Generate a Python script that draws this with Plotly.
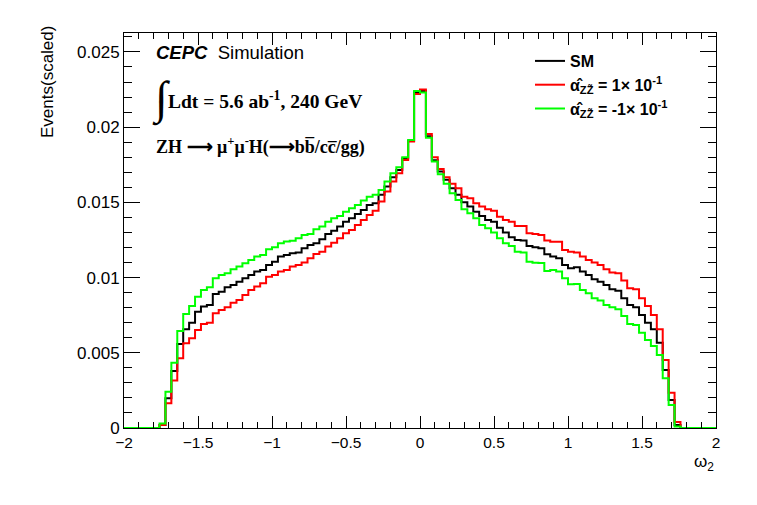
import numpy as np
import plotly.graph_objects as go

# ---- data: 100 bins of width 0.04 on [-2, 2] ----
bin_lo, bin_hi, n_bins = -2.0, 2.0, 100

sm_vals = [0, 0, 0, 0, 0, 0,
           0.0002, 0.00197, 0.00379, 0.00559, 0.00656, 0.0070, 0.00773, 0.00807, 0.00818, 0.00891,
           0.00906, 0.00936, 0.0095, 0.00973, 0.00995, 0.01017, 0.0104, 0.0105, 0.01084, 0.01106,
           0.0114, 0.0115, 0.01162, 0.01166, 0.01195, 0.01217, 0.01228, 0.01255, 0.0129, 0.01312,
           0.01339, 0.01372, 0.01394, 0.01423, 0.0145, 0.01483, 0.01494, 0.0155, 0.01605, 0.01667,
           0.01716, 0.01791, 0.0191, 0.0223, 0.0224, 0.0194, 0.0178, 0.01705, 0.0165, 0.01594,
           0.0155, 0.0150, 0.01472, 0.01438, 0.0141, 0.01383, 0.01372, 0.01332, 0.01299, 0.01268,
           0.0125, 0.01246, 0.0121, 0.01202, 0.01195, 0.01155, 0.0114, 0.01128, 0.01084, 0.01062,
           0.01069, 0.0104, 0.01017, 0.00989, 0.00973, 0.0095, 0.00922, 0.00913, 0.00862, 0.00818,
           0.00803, 0.00751, 0.0070, 0.00656, 0.00567, 0.00386, 0.00186, 0.0002,
           0, 0, 0, 0, 0, 0]

pos_vals = [0, 0, 0, 0, 0, 0,
            0.0002, 0.00164, 0.00315, 0.00463, 0.00563, 0.00597, 0.00652, 0.00692, 0.0070, 0.00763,
            0.00785, 0.00803, 0.00833, 0.00851, 0.00884, 0.00918, 0.0094, 0.00962, 0.01006, 0.01017,
            0.0104, 0.0105, 0.01073, 0.01084, 0.0110, 0.01128, 0.01157, 0.01172, 0.01206, 0.01232,
            0.01262, 0.01295, 0.01317, 0.0135, 0.01383, 0.01416, 0.01445, 0.01505, 0.01572, 0.01638,
            0.01694, 0.01782, 0.01905, 0.0222, 0.0225, 0.01955, 0.0180, 0.01722, 0.01667, 0.01623,
            0.01594, 0.01538, 0.01527, 0.01494, 0.01472, 0.01454, 0.01445, 0.01405, 0.01383, 0.01372,
            0.01343, 0.01343, 0.01295, 0.0129, 0.01283, 0.01246, 0.01239, 0.01239, 0.01184, 0.01172,
            0.01166, 0.0114, 0.01117, 0.0110, 0.01084, 0.01055, 0.01033, 0.01029, 0.0098, 0.00929,
            0.00922, 0.00862, 0.00811, 0.00751, 0.00656, 0.00452, 0.00235, 0.0004,
            0, 0, 0, 0, 0, 0]

neg_vals = [0, 0, 0, 0, 0, 0,
            0.0003, 0.00241, 0.00434, 0.00645, 0.00758, 0.00811, 0.00873, 0.00918, 0.00936, 0.00995,
            0.01017, 0.01029, 0.01055, 0.01073, 0.01095, 0.01117, 0.0114, 0.0115, 0.01188, 0.01202,
            0.01228, 0.0124, 0.01245, 0.01262, 0.01283, 0.0129, 0.01321, 0.01339, 0.01372, 0.01394,
            0.0141, 0.01438, 0.01461, 0.01483, 0.01512, 0.01538, 0.0155, 0.01583, 0.01638, 0.01694,
            0.01734, 0.0180, 0.01915, 0.0224, 0.0223, 0.0193, 0.01771, 0.01687, 0.01623, 0.0156,
            0.01516, 0.01454, 0.01428, 0.01394, 0.0135, 0.01328, 0.01299, 0.01262, 0.01228, 0.0121,
            0.01172, 0.01166, 0.01106, 0.01099, 0.01097, 0.01044, 0.01051, 0.0104, 0.00995, 0.00956,
            0.00958, 0.00918, 0.00896, 0.00862, 0.00847, 0.00818, 0.00803, 0.00789, 0.00745, 0.00692,
            0.00685, 0.00634, 0.00585, 0.00545, 0.00485, 0.0033, 0.00153, 0.0001,
            0, 0, 0, 0, 0, 0]

series_names = ["<b>SM</b>",
                "<b>α\u0302<sub>ZZ\u0303</sub> = 1× 10<sup>-1</sup></b>",
                "<b>α\u0302<sub>ZZ\u0303</sub> = -1× 10<sup>-1</sup></b>"]
series_colors = ["#000000", "#ff0000", "#00ff00"]

x_ticks = [-2, -1.5, -1, -0.5, 0, 0.5, 1, 1.5, 2]
x_tick_text = ["\u22122", "\u22121.5", "\u22121", "\u22120.5", "0", "0.5", "1", "1.5", "2"]
y_ticks = [0, 0.005, 0.01, 0.015, 0.02, 0.025]
y_tick_text = ["0", "0.005", "0.01", "0.015", "0.02", "0.025"]

edges = np.linspace(bin_lo, bin_hi, n_bins + 1)

fig = go.Figure()
for vals, name, col in zip([sm_vals, pos_vals, neg_vals], series_names, series_colors):
    fig.add_trace(go.Scatter(
        x=edges, y=list(vals) + [vals[-1]],
        mode="lines", line=dict(color=col, width=2, shape="hv"),
        name=name, legendgroup=name,
    ))

# page body has an 8px margin; size the figure so it fits the 757x505 window
OFF = 8
W, H = 757 - OFF, 505 - OFF
ml, mt = 124 - OFF, 33 - OFF
pw, ph = 592, 395
mr, mb = W - ml - pw, H - mt - ph

def px(xs):  # screen x -> paper x
    return (xs - OFF - ml) / pw

def py(ys):  # screen y -> paper y
    return (mt + ph - (ys - OFF)) / ph

sans = "Liberation Sans, Arial, sans-serif"
serif = "Liberation Serif, Times New Roman, serif"

fig.update_layout(
    width=W, height=H,
    margin=dict(l=ml, r=mr, t=mt, b=mb, pad=0),
    paper_bgcolor="white", plot_bgcolor="white",
    showlegend=True,
    legend=dict(x=px(530), y=py(44), xanchor="left", yanchor="top",
                bgcolor="rgba(0,0,0,0)", font=dict(family=sans, size=16, color="black"),
                tracegroupgap=0, itemwidth=30),
    xaxis=dict(range=[-2, 2], tickvals=x_ticks, ticktext=x_tick_text,
               ticks="inside", ticklen=12, tickcolor="black", tickwidth=1,
               showline=True, linecolor="black", linewidth=1, mirror="allticks",
               showgrid=False, zeroline=False,
               tickfont=dict(family=sans, size=15.5, color="black"),
               minor=dict(dtick=0.1, tick0=0, ticks="inside", ticklen=6, tickcolor="black", showgrid=False)),
    yaxis=dict(range=[0, 0.02626], tickvals=y_ticks, ticktext=y_tick_text,
               ticks="inside", ticklen=16, tickcolor="black", tickwidth=1,
               showline=True, linecolor="black", linewidth=1, mirror="allticks",
               showgrid=False, zeroline=False,
               tickfont=dict(family=sans, size=17, color="black"),
               minor=dict(dtick=0.001, tick0=0, ticks="inside", ticklen=8, tickcolor="black", showgrid=False)),
)

ann = [
    dict(text="<b><i>CEPC</i></b>&nbsp; Simulation", x=px(154), y=py(52), xanchor="left", yanchor="middle",
         font=dict(family=sans, size=18.5, color="black")),
    dict(text="∫", x=px(150), y=py(99), xanchor="left", yanchor="middle",
         font=dict(family=serif, size=46, color="black")),
    dict(text="<b>Ldt = 5.6 ab<sup>-1</sup>, 240 GeV</b>", x=px(166), y=py(100), xanchor="left", yanchor="middle",
         font=dict(family=serif, size=19.5, color="black")),
    dict(text="<b>ZH ⟶ μ<sup>+</sup>μ<sup>-</sup>H(⟶bb\u0305/cc\u0305/gg)</b>", x=px(154), y=py(146),
         xanchor="left", yanchor="middle", font=dict(family=serif, size=18, color="black")),
    dict(text="Events(scaled)", x=px(47), y=py(82), xanchor="center", yanchor="middle", textangle=-90,
         font=dict(family=sans, size=17, color="black")),
    dict(text="ω<sub>2</sub>", x=px(716), y=py(463), xanchor="right", yanchor="middle",
         font=dict(family=sans, size=17, color="black")),
]
for a in ann:
    a.update(xref="paper", yref="paper", showarrow=False)
fig.update_layout(annotations=ann)

fig.write_html("out.html")
